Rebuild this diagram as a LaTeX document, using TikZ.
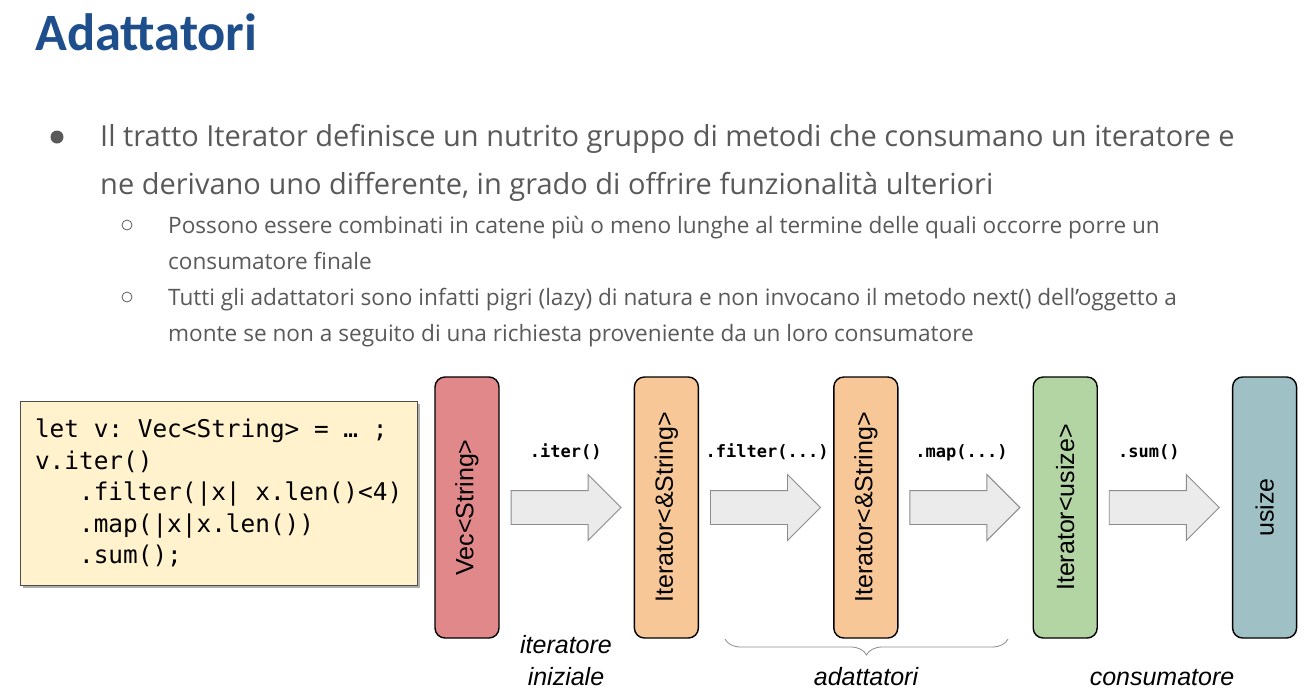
\documentclass[tikz,border=0pt]{standalone}
\usepackage{fontspec}
\setmainfont{Open Sans}
\newfontfamily\titlefont{Carlito}
\newfontfamily\labelfont{Liberation Sans}
\setmonofont{DejaVu Sans Mono}
\usetikzlibrary{positioning,shapes.arrows,shadows,decorations.pathreplacing,calc}

\definecolor{titleblue}{HTML}{1F4E8C}
\definecolor{bodygrey}{HTML}{595959}
\definecolor{codefill}{HTML}{FFF2CC}
\definecolor{vecred}{HTML}{E0888A}
\definecolor{iterorange}{HTML}{F7C797}
\definecolor{usizegreen}{HTML}{B3D5A3}
\definecolor{sumblue}{HTML}{9FC1C6}
\definecolor{arrowfill}{HTML}{EBEBEB}

% one fixed-width blank in the code box
\newcommand{\codesp}{\hphantom{x}}

\begin{document}
\begin{tikzpicture}[x=1pt,y=-1pt,
    body/.style={anchor=base west, inner sep=0pt, text=bodygrey, font=\fontsize{29}{34}\selectfont},
    subbody/.style={anchor=base west, inner sep=0pt, text=bodygrey, font=\fontsize{22.6}{26}\selectfont},
    typebox/.style={draw=black, line width=1.4pt, rounded corners=10pt, minimum width=64pt, minimum height=261pt, inner sep=0pt, font=\labelfont\fontsize{25}{30}\selectfont},
    flow/.style={single arrow, draw=black!45, fill=arrowfill, line width=0.9pt, minimum height=110pt, inner sep=16.5pt, single arrow head extend=16pt, anchor=tip},
    call/.style={anchor=base, inner sep=0pt, font=\ttfamily\bfseries\fontsize{17}{20}\selectfont},
    note/.style={anchor=base, inner sep=0pt, font=\labelfont\itshape\fontsize{25}{30}\selectfont},
    node distance=134pt]

    \useasboundingbox (0,0) rectangle (1310,694);

    % title and bullets
    \node[anchor=base west, inner sep=0pt, text=titleblue, font=\titlefont\bfseries\fontsize{52.5}{60}\selectfont] (title) at (35,50) {Adattatori};
    \node[circle, fill=bodygrey, minimum size=13pt, inner sep=0pt] (dot1) at (57,137) {};
    \node[body] (l1) at (100,146) {Il tratto Iterator definisce un nutrito gruppo di metodi che consumano un iteratore e};
    \node[body] (l2) at (100,194) {ne derivano uno differente, in grado di offrire funzionalità ulteriori};
    \node[circle, draw=bodygrey, line width=0.8pt, minimum size=10pt, inner sep=0pt] (ring1) at (127,225) {};
    \node[subbody] (s1) at (168,233) {Possono essere combinati in catene più o meno lunghe al termine delle quali occorre porre un};
    \node[subbody] (s2) at (168,269) {consumatore finale};
    \node[circle, draw=bodygrey, line width=0.8pt, minimum size=10pt, inner sep=0pt] (ring2) at (127,297) {};
    \node[subbody] (s3) at (168,305) {Tutti gli adattatori sono infatti pigri (lazy) di natura e non invocano il metodo next() dell’oggetto a};
    \node[subbody] (s4) at (168,341) {monte se non a seguito di una richiesta proveniente da un loro consumatore};

    % code
    \node[draw=black!70, line width=1pt, fill=codefill, drop shadow={shadow xshift=2.5pt, shadow yshift=-3pt, fill=black!45, opacity=0.7},
          align=left, text width=367pt, inner xsep=15pt, minimum height=184pt, font=\ttfamily\fontsize{24.4}{31.5}\selectfont] (code) at (218.5,493)
        {let\codesp v:\codesp Vec<String>\codesp =\codesp …\codesp ;\\
         v.iter()\\
         \codesp\codesp\codesp .filter(|x|\codesp x.len()<4)\\
         \codesp\codesp\codesp .map(|x|x.len())\\
         \codesp\codesp\codesp .sum();};

    % chain of types
    \node[typebox, fill=vecred] (vec) at (467,507.5) {\rotatebox{90}{Vec<String>}};
    \node[typebox, fill=iterorange, right=of vec] (iterA) {\rotatebox{90}{Iterator<\&String>}};
    \node[typebox, fill=iterorange, right=of iterA] (iterB) {\rotatebox{90}{Iterator<\&String>}};
    \node[typebox, fill=usizegreen, right=of iterB] (iterU) {\rotatebox{90}{Iterator<usize>}};
    \node[typebox, fill=sumblue, right=of iterU] (usz) {\rotatebox{90}{usize}};

    \node[flow] (a1) at ([xshift=-12pt]iterA.west) {};
    \node[flow] (a2) at ([xshift=-12pt]iterB.west) {};
    \node[flow] (a3) at ([xshift=-12pt]iterU.west) {};
    \node[flow] (a4) at ([xshift=-12pt]usz.west) {};

    \node[call] at ([xshift=-56pt,yshift=50pt]a1.tip) {.iter()};
    \node[call] at ([xshift=-54pt,yshift=50pt]a2.tip) {.filter(...)};
    \node[call] at ([xshift=-59pt,yshift=50pt]a3.tip) {.map(...)};
    \node[call] at ([xshift=-71pt,yshift=50pt]a4.tip) {.sum()};

    % captions
    \node[note] (cap1) at (566,653) {iteratore};
    \node[note] (cap2) at (566,685) {iniziale};
    \draw[black!45, line width=0.8pt, decorate, decoration={brace, amplitude=16pt}] (1008,639) -- (725,639);
    \node[note] (cap3) at (866,685) {adattatori};
    \node[note] (cap4) at (1162,685) {consumatore};
\end{tikzpicture}
\end{document}
